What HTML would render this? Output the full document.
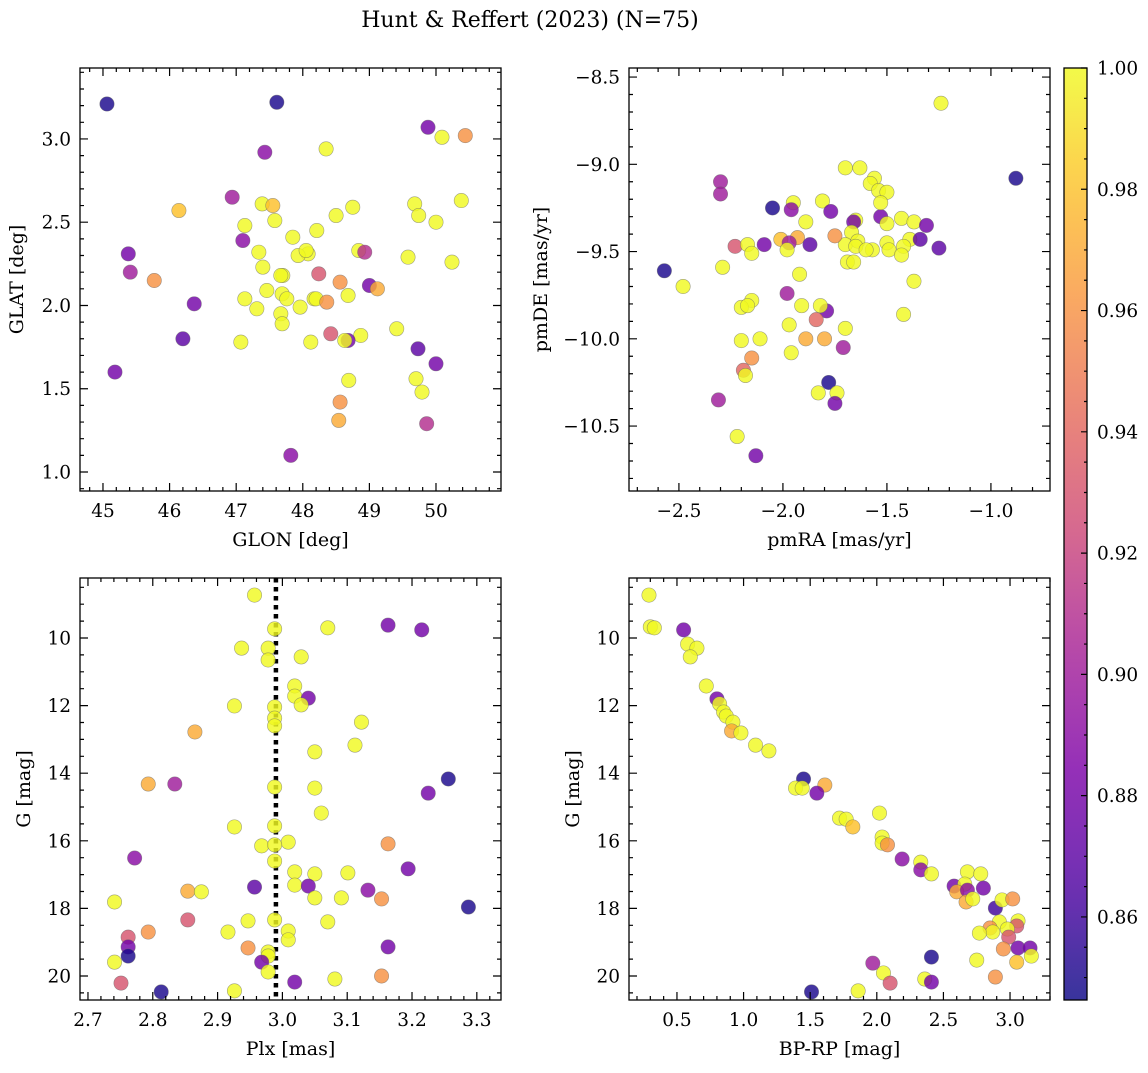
<!DOCTYPE html>
<html><head><meta charset="utf-8"><style>
body{margin:0;background:#fff;}
svg text{font-family:"DejaVu Serif","Liberation Serif",serif;fill:#000;}
</style></head><body>
<svg id="chart" width="1148" height="1068" xmlns="http://www.w3.org/2000/svg">
<text x="530" y="27" font-size="22" text-anchor="middle">Hunt &amp; Reffert (2023) (N=75)</text>
</svg>
<script>
// Panel 1: positions
const glonVals=[45.06,47.61,49.88,50.44,47.43,48.35,50.09,46.94,46.14,47.39,47.55,47.58,48.75,47.13,49.68,49.74,50.38,48.50,48.21,50.00,45.38,47.10,47.34,47.85,48.08,47.93,48.05,48.84,48.93,45.41,47.40,47.70,47.67,48.24,47.46,48.56,49.58,50.24,45.77,49.00,48.68,49.12,47.69,47.13,47.76,48.17,48.20,48.36,46.37,47.31,47.67,47.96,47.69,49.41,48.87,48.42,48.68,48.63,46.20,47.07,48.12,49.73,50.00,45.18,48.69,49.70,48.56,49.79,48.54,49.86,47.82];
const glatVals=[3.21,3.22,3.07,3.02,2.92,2.94,3.01,2.65,2.57,2.61,2.60,2.51,2.59,2.48,2.61,2.54,2.63,2.54,2.45,2.50,2.31,2.39,2.32,2.41,2.31,2.30,2.33,2.33,2.32,2.20,2.23,2.18,2.18,2.19,2.09,2.14,2.29,2.26,2.15,2.12,2.06,2.10,2.07,2.04,2.04,2.04,2.04,2.02,2.01,1.98,1.95,1.99,1.89,1.86,1.82,1.83,1.79,1.79,1.80,1.78,1.78,1.74,1.65,1.60,1.55,1.56,1.42,1.48,1.31,1.29,1.10];
const probPos=[.85,.85,.88,.96,.89,1,1,.90,.98,1,.98,1,1,1,1,1,1,1,1,1,.88,.89,1,1,1,1,1,1,.91,.90,1,1,1,.93,1,.96,1,1,.96,.88,1,.97,1,1,1,1,1,.96,.88,1,1,1,1,1,1,.93,.88,1,.87,1,1,.87,.88,.88,1,1,.96,1,.97,.91,.89];
// Panel 2: proper motions
const pmraVals=[-1.24,-0.88,-1.70,-1.63,-1.56,-1.58,-1.54,-1.50,-2.30,-2.30,-2.05,-1.81,-1.95,-1.96,-1.77,-1.53,-1.53,-1.65,-1.66,-1.43,-1.37,-1.31,-1.50,-1.89,-1.39,-1.67,-1.70,-1.64,-1.50,-1.65,-1.75,-2.01,-1.93,-1.97,-2.23,-2.17,-2.09,-2.15,-1.87,-1.57,-1.42,-1.34,-1.49,-1.25,-1.60,-1.98,-2.57,-2.29,-1.69,-1.43,-1.66,-1.92,-1.37,-1.98,-2.48,-2.15,-1.79,-2.20,-2.17,-1.82,-1.91,-1.84,-1.97,-1.42,-1.70,-1.89,-1.80,-2.11,-1.71,-2.20,-1.96,-2.15,-2.19,-2.18,-1.78,-1.74,-1.83,-1.75,-2.31,-2.22,-2.13];
const pmdeVals=[-8.65,-9.08,-9.02,-9.02,-9.08,-9.11,-9.15,-9.16,-9.10,-9.17,-9.25,-9.21,-9.22,-9.26,-9.27,-9.30,-9.22,-9.32,-9.33,-9.31,-9.33,-9.35,-9.34,-9.33,-9.43,-9.39,-9.46,-9.44,-9.45,-9.47,-9.41,-9.43,-9.42,-9.45,-9.47,-9.46,-9.46,-9.51,-9.46,-9.49,-9.47,-9.43,-9.49,-9.48,-9.49,-9.49,-9.61,-9.59,-9.56,-9.52,-9.56,-9.63,-9.67,-9.74,-9.70,-9.78,-9.84,-9.82,-9.81,-9.81,-9.81,-9.89,-9.92,-9.86,-9.94,-10.00,-10.00,-10.00,-10.05,-10.01,-10.08,-10.11,-10.18,-10.21,-10.25,-10.31,-10.31,-10.37,-10.35,-10.56,-10.67];
const probPm=[1,.85,1,1,1,1,1,1,.90,.90,.85,1,1,.89,.88,.88,1,1,.88,1,1,.88,1,1,1,1,1,1,1,1,.96,.98,.97,.90,.93,1,.88,1,.87,1,1,.87,1,.87,1,1,.85,1,1,1,1,1,1,.90,1,1,.88,1,1,1,1,.94,1,1,1,.97,.97,1,.90,1,1,.96,.94,1,.85,1,1,.88,.90,1,.88];
// Panel 3: parallax vs G
const plxVals=[2.957,2.988,3.070,3.163,3.215,2.937,2.978,2.978,3.029,3.019,3.019,3.040,2.926,2.988,3.029,3.122,2.988,2.988,2.865,3.112,3.050,2.793,2.834,2.988,3.256,3.225,3.050,3.060,2.988,2.926,2.968,3.009,2.988,3.163,2.988,2.772,3.194,3.019,3.050,3.101,3.019,2.957,3.040,3.132,2.854,2.741,2.875,3.287,3.050,3.091,3.153,2.947,2.988,2.854,3.070,2.916,3.009,2.793,2.762,3.163,3.009,2.947,2.762,2.978,2.978,2.762,2.741,2.968,2.978,3.153,3.081,3.019,2.751,2.813,2.926];
const gPlxVals=[8.73,9.73,9.70,9.62,9.76,10.30,10.30,10.65,10.56,11.42,11.72,11.78,12.01,12.04,11.98,12.49,12.37,12.60,12.78,13.17,13.37,14.32,14.32,14.41,14.17,14.59,14.44,15.18,15.56,15.59,16.15,16.04,16.12,16.09,16.60,16.51,16.83,16.92,16.98,16.95,17.31,17.37,17.34,17.46,17.49,17.81,17.51,17.96,17.69,17.69,17.72,18.37,18.34,18.34,18.40,18.70,18.67,18.70,18.85,19.14,18.93,19.17,19.14,19.29,19.41,19.41,19.59,19.59,19.88,20.00,20.09,20.18,20.21,20.47,20.44];
const probPlx=[1,1,1,.88,.88,1,1,1,1,1,1,.88,1,1,1,1,1,1,.97,1,1,.97,.90,1,.85,.88,1,1,1,1,1,1,1,.96,1,.89,.88,1,1,1,1,.87,.88,.89,.97,1,1,.85,1,1,.96,1,1,.93,1,1,1,.96,.93,.88,1,.96,.88,1,1,.85,1,.88,1,.96,1,.88,.93,.85,1];
const plxLine=2.990;
// Panel 4: colour-magnitude
const bprpVals=[0.29,0.30,0.33,0.55,0.58,0.65,0.60,0.72,0.80,0.82,0.85,0.87,0.92,0.91,0.98,1.09,1.19,1.45,1.39,1.44,1.61,1.55,1.72,1.77,1.82,2.02,2.04,2.04,2.08,2.19,2.33,2.33,2.41,2.68,2.78,2.58,2.66,2.60,2.68,2.80,2.67,2.72,2.89,2.94,3.02,2.92,3.06,3.05,2.98,2.85,2.87,2.77,2.99,3.06,3.15,2.95,3.16,3.05,2.75,2.89,2.41,1.97,2.05,2.10,2.36,2.41,1.51,1.86];
const gCmdVals=[8.73,9.67,9.70,9.76,10.18,10.30,10.56,11.42,11.80,11.95,12.19,12.31,12.49,12.75,12.81,13.17,13.34,14.17,14.44,14.44,14.35,14.59,15.33,15.36,15.59,15.18,15.89,16.07,16.12,16.54,16.63,16.86,16.98,16.92,16.98,17.34,17.28,17.51,17.46,17.40,17.81,17.72,17.99,17.75,17.72,18.40,18.37,18.52,18.61,18.58,18.70,18.73,18.85,19.17,19.17,19.20,19.41,19.59,19.53,20.03,19.44,19.62,19.91,20.21,20.09,20.18,20.47,20.44];
const probCmd=[1,1,1,.88,1,1,1,1,.88,1,1,1,1,.97,1,1,1,.85,1,1,.97,.88,1,1,.98,1,1,1,.96,.89,1,.89,1,1,1,.88,1,.97,.89,.88,.97,1,.86,1,.96,1,1,.93,1,.96,1,1,.93,.88,.88,.96,1,.98,1,.96,.85,.90,1,.93,1,.88,.85,1];
const cbTicks=[0.86,0.88,0.90,0.92,0.94,0.96,0.98,1.00];
const cMin=0.8463,cMax=1.0;

const NS='http://www.w3.org/2000/svg';
const svg=document.getElementById('chart');
function mk(tag,attrs,parent){const e=document.createElementNS(NS,tag);for(const k in attrs)e.setAttribute(k,attrs[k]);(parent||svg).appendChild(e);return e;}
const stops=[[0,[13,8,135]],[0.13,[84,2,163]],[0.25,[126,3,168]],[0.38,[168,34,150]],[0.5,[204,71,120]],[0.63,[230,108,92]],[0.75,[248,149,64]],[0.88,[253,196,39]],[1,[240,249,33]]];
function plasma(t){t=Math.max(0,Math.min(1,t));for(let i=1;i<stops.length;i++){if(t<=stops[i][0]){const a=stops[i-1],b=stops[i];const f=(t-a[0])/(b[0]-a[0]);const c=a[1].map((v,j)=>Math.round(v+(b[1][j]-v)*f));return `rgb(${c})`;}}return 'rgb(240,249,33)';}
function cmap(p){return plasma((p-cMin)/(cMax-cMin));}
const FS=18.5, TFS=19;

function panel(o){
  const g=mk('g',{});
  
  
  const sx=v=>o.x0+(v-o.xmin)/(o.xmax-o.xmin)*(o.x1-o.x0);
  const sy=v=>o.y1-(v-o.ymin)/(o.ymax-o.ymin)*(o.y1-o.y0);
  const clip='clip-'+o.name;
  const cp=mk('clipPath',{id:clip},g);mk('rect',{x:o.x0,y:o.y0,width:o.x1-o.x0,height:o.y1-o.y0},cp);
  const pts=mk('g',{'clip-path':`url(#${clip})`},g);
  
  
  if(o.vline!==undefined){const l=mk('line',{x1:sx(o.vline),x2:sx(o.vline),y1:o.y0,y2:o.y1,stroke:'#000','stroke-width':4.5,'stroke-dasharray':'4.5 4.5'},pts);
    
    }
  for(let i=0;i<o.xs.length;i++){
    const c=mk('circle',{cx:sx(o.xs[i]),cy:sy(o.ys[i]),r:7.2,fill:cmap(o.ps[i]),'fill-opacity':0.82,stroke:'#666','stroke-opacity':0.6,'stroke-width':0.6},pts);
    
    
  }
  mk('rect',{x:o.x0,y:o.y0,width:o.x1-o.x0,height:o.y1-o.y0,fill:'none',stroke:'#000','stroke-width':1.3},g);
  const tk=[];
  function ticksX(vals,len){vals.forEach(v=>{const x=sx(v);if(x<o.x0-0.5||x>o.x1+0.5)return;tk.push(`M${x},${o.y1}v${-len}M${x},${o.y0}v${len}`);});}
  function ticksY(vals,len){vals.forEach(v=>{const y=sy(v);if(y<o.y0-0.5||y>o.y1+0.5)return;tk.push(`M${o.x0},${y}h${len}M${o.x1},${y}h${-len}`);});}
  const rng=(a,b,s)=>{const r=[];for(let v=a;v<=b+1e-9;v+=s)r.push(+v.toFixed(6));return r;};
  ticksX(rng(Math.floor(o.xmin/o.xminor)*o.xminor,o.xmax,o.xminor),4);
  ticksY(rng(Math.floor(o.ymin/o.yminor)*o.yminor,o.ymax,o.yminor),4);
  ticksX(o.xticks,8);ticksY(o.yticks,8);
  mk('path',{d:tk.join(''),stroke:'#000','stroke-width':1.2,fill:'none'},g);
  o.xticks.forEach((v,i)=>{const t=mk('text',{x:sx(v),y:o.y1+26,'font-size':FS,'text-anchor':'middle'},g);t.textContent=o.xlabels[i];
    });
  o.yticks.forEach((v,i)=>{const t=mk('text',{x:o.x0-9,y:sy(v)+6.5,'font-size':FS,'text-anchor':'end'},g);t.textContent=o.ylabels[i];
    });
  const xt=mk('text',{x:(o.x0+o.x1)/2,y:o.y1+55,'font-size':TFS,'text-anchor':'middle'},g);xt.textContent=o.xtitle;
  
  const yt=mk('text',{x:0,y:0,'font-size':TFS,'text-anchor':'middle',transform:`translate(${o.ytx},${(o.y0+o.y1)/2}) rotate(-90)`},g);yt.textContent=o.ytitle;
  
}
const m=s=>s.replace('-','\u2212');
const gT=[10,12,14,16,18,20];
panel({name:'position-panel',x0:80,x1:501,y0:68,y1:491,xmin:44.655,xmax:50.976,ymin:0.886,ymax:3.426,xs:glonVals,ys:glatVals,ps:probPos,
  xticks:[45,46,47,48,49,50],xlabels:['45','46','47','48','49','50'],xminor:0.2,yticks:[1,1.5,2,2.5,3],ylabels:['1.0','1.5','2.0','2.5','3.0'],yminor:0.1,xtitle:'GLON [deg]',ytitle:'GLAT [deg]',ytx:23});
panel({name:'proper-motion-panel',x0:629,x1:1050,y0:68,y1:491,xmin:-2.74,xmax:-0.716,ymin:-10.872,ymax:-8.448,xs:pmraVals,ys:pmdeVals,ps:probPm,
  xticks:[-2.5,-2,-1.5,-1],xlabels:['-2.5','-2.0','-1.5','-1.0'].map(m),xminor:0.1,yticks:[-10.5,-10,-9.5,-9,-8.5],ylabels:['-10.5','-10.0','-9.5','-9.0','-8.5'].map(m),yminor:0.1,xtitle:'pmRA [mas/yr]',ytitle:'pmDE [mas/yr]',ytx:547});
panel({name:'parallax-panel',x0:80,x1:501,y0:578,y1:1000,xmin:2.6877,xmax:3.3373,ymin:-20.71,ymax:-8.225,xs:plxVals,ys:gPlxVals.map(v=>-v),ps:probPlx,vline:plxLine,
  xticks:[2.7,2.8,2.9,3.0,3.1,3.2,3.3],xlabels:['2.7','2.8','2.9','3.0','3.1','3.2','3.3'],xminor:0.02,yticks:gT.map(v=>-v),ylabels:gT.map(String),yminor:0.5,xtitle:'Plx [mas]',ytitle:'G [mag]',ytx:30});
panel({name:'cmd-panel',x0:629,x1:1050,y0:578,y1:1000,xmin:0.14,xmax:3.30,ymin:-20.71,ymax:-8.225,xs:bprpVals,ys:gCmdVals.map(v=>-v),ps:probCmd,
  xticks:[0.5,1,1.5,2,2.5,3],xlabels:['0.5','1.0','1.5','2.0','2.5','3.0'],xminor:0.1,yticks:gT.map(v=>-v),ylabels:gT.map(String),yminor:0.5,xtitle:'BP-RP [mag]',ytitle:'G [mag]',ytx:579});

const cb=mk('g',{});


const defs=mk('defs',{},cb);
const lg=mk('linearGradient',{id:'cbg',x1:0,y1:1,x2:0,y2:0},defs);
for(let i=0;i<=20;i++){mk('stop',{offset:i/20,'stop-color':plasma(i/20),'stop-opacity':0.82},lg);}
const cbx0=1064,cbx1=1087,cby0=68,cby1=1000;
mk('rect',{x:cbx0,y:cby0,width:cbx1-cbx0,height:cby1-cby0,fill:'url(#cbg)',stroke:'#000','stroke-width':1.3},cb);
const cy=v=>cby1-(v-cMin)/(cMax-cMin)*(cby1-cby0);
let cd='';
for(let v=0.85;v<=1.0001;v+=0.005){cd+=`M${cbx1},${cy(v)}h-3`;}
cbTicks.forEach(v=>{cd+=`M${cbx1},${cy(v)}h-6`;});
mk('path',{d:cd,stroke:'#000','stroke-width':1.2},cb);
cbTicks.forEach(v=>{const t=mk('text',{x:cbx1+10,y:cy(v)+6.5,'font-size':FS},cb);t.textContent=v.toFixed(2);
  });
</script>
</body></html>
